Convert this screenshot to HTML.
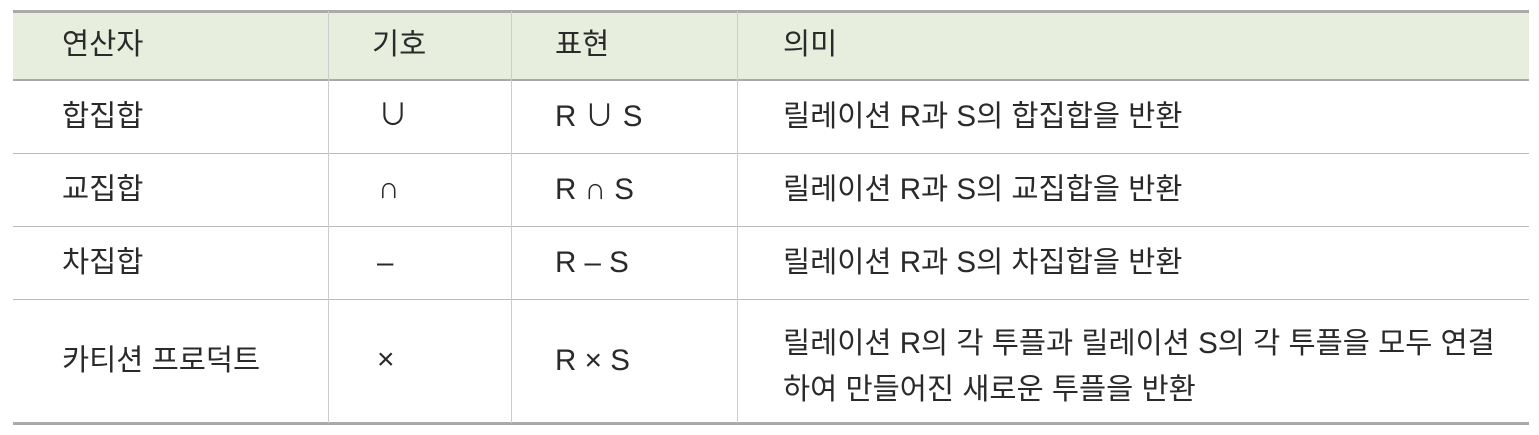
<!DOCTYPE html>
<html><head><meta charset="utf-8"><style>
body{margin:0;width:1539px;height:435px;background:#fff;position:relative;overflow:hidden;font-family:"Liberation Sans","Noto Sans CJK KR","NanumGothic",sans-serif;color:#2a2a2a;}
.a{position:absolute;}
.h{background:#e7eedd;left:13px;width:1516px;top:11px;height:69px;}
.hl{height:3px;background:#aaa;left:13px;width:1516px;}
.rl{height:1px;background:#bbb;left:13px;width:1516px;}
.vl{width:1px;background:#ccc;top:11px;height:412px;}
.t{font-size:29.5px;line-height:32px;white-space:nowrap;}
.s{font-size:30px;}
</style></head><body>
<div class="a h"></div>
<div class="a hl" style="top:10px"></div>
<div class="a hl" style="top:79px;height:2px"></div>
<div class="a rl" style="top:153px"></div>
<div class="a rl" style="top:226px"></div>
<div class="a rl" style="top:299px"></div>
<div class="a hl" style="top:422px"></div>
<div class="a vl" style="left:328px"></div>
<div class="a vl" style="left:511px"></div>
<div class="a vl" style="left:737px"></div>

<div class="a t" style="left:62px;top:29px">연산자</div>
<div class="a t" style="left:372px;top:29px">기호</div>
<div class="a t" style="left:555px;top:29px">표현</div>
<div class="a t" style="left:783px;top:29px">의미</div>

<div class="a t" style="left:62px;top:101px">합집합</div>
<div class="a t s" style="left:378px;top:100px">∪</div>
<div class="a t" style="left:555px;top:101px">R <span class="s">∪</span> S</div>
<div class="a t" style="left:783px;top:101px">릴레이션 R과 S의 합집합을 반환</div>

<div class="a t" style="left:62px;top:174px">교집합</div>
<div class="a t s" style="left:378px;top:173px">∩</div>
<div class="a t" style="left:555px;top:174px">R <span class="s">∩</span> S</div>
<div class="a t" style="left:783px;top:174px">릴레이션 R과 S의 교집합을 반환</div>

<div class="a t" style="left:62px;top:247px">차집합</div>
<div class="a t" style="left:377px;top:247px">–</div>
<div class="a t" style="left:555px;top:247px">R – S</div>
<div class="a t" style="left:783px;top:247px">릴레이션 R과 S의 차집합을 반환</div>

<div class="a t" style="left:62px;top:345px">카티션 프로덕트</div>
<div class="a t s" style="left:377px;top:344px">×</div>
<div class="a t" style="left:555px;top:345px">R <span class="s">×</span> S</div>
<div class="a t" style="left:783px;top:321px;line-height:46px">릴레이션 R의 각 투플과 릴레이션 S의 각 투플을 모두 연결<br>하여 만들어진 새로운 투플을 반환</div>
</body></html>
